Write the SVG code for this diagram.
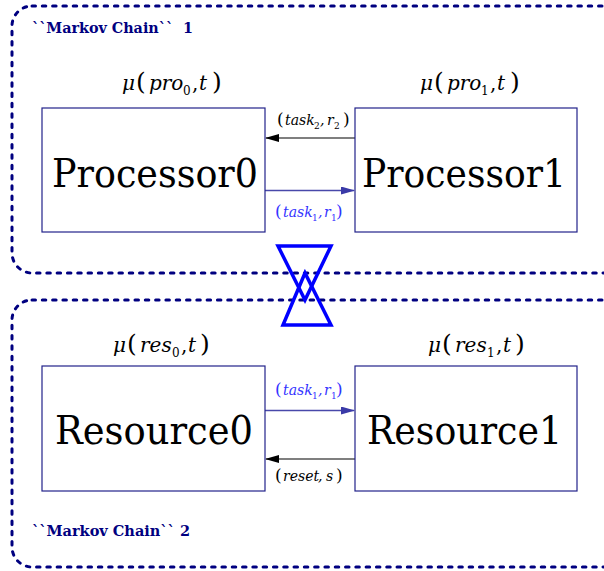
<svg xmlns="http://www.w3.org/2000/svg" width="604" height="571" viewBox="0 0 604 571">
<style>
text{font-family:"DejaVu Serif","Liberation Serif",serif}
.chain{fill:none;stroke:#000080;stroke-width:3;stroke-dasharray:3.5 6.8;stroke-linecap:round}
.title{font-weight:bold;font-size:14px;fill:#000080}
.box{fill:#fff;stroke:#22228a;stroke-width:1.2}
.big{font-size:38.5px;fill:#000}
.mu{font-size:20px;font-style:italic;fill:#000}
.lbl{font-size:14px;font-style:italic}
.par{font-style:normal}
.sub{font-style:normal}
.blk{stroke:#000;stroke-width:1.2}
.blu{stroke:#4848aa;stroke-width:1.5}
</style>
<defs>
<marker id="ak" markerWidth="14" markerHeight="8" refX="13" refY="4" orient="auto" markerUnits="userSpaceOnUse"><path d="M0,0 L14,4 L0,8 Z" fill="#000"/></marker>
<marker id="ab" markerWidth="14" markerHeight="8" refX="13" refY="4" orient="auto" markerUnits="userSpaceOnUse"><path d="M0,0 L14,4 L0,8 Z" fill="#3a3aa8"/></marker>
</defs>
<g id="chain1">
<rect class="chain" x="12" y="6" width="610" height="267" rx="20"/>
<text class="title" x="32" y="33" textLength="161" lengthAdjust="spacingAndGlyphs" xml:space="preserve">``Markov Chain``  1</text>
</g>
<g id="chain2">
<rect class="chain" x="12" y="300" width="610" height="267" rx="20"/>
<text class="title" x="32" y="536" textLength="158" lengthAdjust="spacingAndGlyphs">``Markov Chain`` 2</text>
</g>
<g id="coupling">
<polygon points="278,246 331,246 305,300" fill="none" stroke="#0000ff" stroke-width="3.5"/>
<polygon points="283,325 331,325 305,273" fill="none" stroke="#0000ff" stroke-width="3.5"/>
</g>
<g id="connectors">
<line class="blk" x1="355" y1="138" x2="266" y2="138" marker-end="url(#ak)"/>
<line class="blu" x1="265" y1="190.5" x2="354" y2="190.5" marker-end="url(#ab)"/>
<line class="blu" x1="265" y1="410.5" x2="354" y2="410.5" marker-end="url(#ab)"/>
<line class="blk" x1="355" y1="459" x2="266" y2="459" marker-end="url(#ak)"/>
<text class="lbl" y="125" fill="#000"><tspan class="par" x="277" font-size="17">(</tspan><tspan x="285">task</tspan><tspan class="sub" x="314" y="129" font-size="9">2</tspan><tspan x="320" y="125">,</tspan><tspan x="327">r</tspan><tspan class="sub" x="334" y="129" font-size="9">2</tspan><tspan class="par" x="343" y="125" font-size="17">)</tspan></text>
<text class="lbl" y="217" fill="#3333ff"><tspan class="par" x="275" font-size="17">(</tspan><tspan x="283">task</tspan><tspan class="sub" x="312" y="221" font-size="9">1</tspan><tspan x="318" y="217">,</tspan><tspan x="324">r</tspan><tspan class="sub" x="331" y="221" font-size="9">1</tspan><tspan class="par" x="336" y="217" font-size="17">)</tspan></text>
<text class="lbl" y="395" fill="#3333ff"><tspan class="par" x="275" font-size="17">(</tspan><tspan x="283">task</tspan><tspan class="sub" x="312" y="399" font-size="9">1</tspan><tspan x="318" y="395">,</tspan><tspan x="324">r</tspan><tspan class="sub" x="331" y="399" font-size="9">1</tspan><tspan class="par" x="336" y="395" font-size="17">)</tspan></text>
<text class="lbl" y="481" fill="#000"><tspan class="par" x="275" font-size="17">(</tspan><tspan x="283">reset</tspan><tspan x="318">,</tspan><tspan x="326">s</tspan><tspan class="par" x="336" font-size="17">)</tspan></text>
</g>
<g id="processor0">
<rect class="box" x="42" y="108" width="223" height="124"/>
<text class="big" x="52" y="187" textLength="206" lengthAdjust="spacingAndGlyphs">Processor0</text>
<text class="mu" y="90"><tspan x="122">μ</tspan><tspan class="par" x="136" font-size="25">(</tspan><tspan x="149">pro</tspan><tspan class="sub" x="183" y="95" font-size="12">0</tspan><tspan class="par" x="192" y="90">,</tspan><tspan x="199">t</tspan><tspan class="par" x="212" font-size="25">)</tspan></text>
</g>
<g id="processor1">
<rect class="box" x="355" y="108" width="222" height="124"/>
<text class="big" x="362" y="187" textLength="204" lengthAdjust="spacingAndGlyphs">Processor1</text>
<text class="mu" y="90"><tspan x="420">μ</tspan><tspan class="par" x="434" font-size="25">(</tspan><tspan x="447">pro</tspan><tspan class="sub" x="481" y="95" font-size="12">1</tspan><tspan class="par" x="490" y="90">,</tspan><tspan x="497">t</tspan><tspan class="par" x="510" font-size="25">)</tspan></text>
</g>
<g id="resource0">
<rect class="box" x="42" y="366" width="223" height="125"/>
<text class="big" x="55" y="444" textLength="198" lengthAdjust="spacingAndGlyphs">Resource0</text>
<text class="mu" y="352"><tspan x="113">μ</tspan><tspan class="par" x="127" font-size="25">(</tspan><tspan x="140">res</tspan><tspan class="sub" x="172" y="357" font-size="12">0</tspan><tspan class="par" x="181" y="352">,</tspan><tspan x="188">t</tspan><tspan class="par" x="200" font-size="25">)</tspan></text>
</g>
<g id="resource1">
<rect class="box" x="355" y="366" width="222" height="125"/>
<text class="big" x="367" y="444" textLength="195" lengthAdjust="spacingAndGlyphs">Resource1</text>
<text class="mu" y="352"><tspan x="428">μ</tspan><tspan class="par" x="442" font-size="25">(</tspan><tspan x="455">res</tspan><tspan class="sub" x="487" y="357" font-size="12">1</tspan><tspan class="par" x="496" y="352">,</tspan><tspan x="503">t</tspan><tspan class="par" x="515" font-size="25">)</tspan></text>
</g>
</svg>
